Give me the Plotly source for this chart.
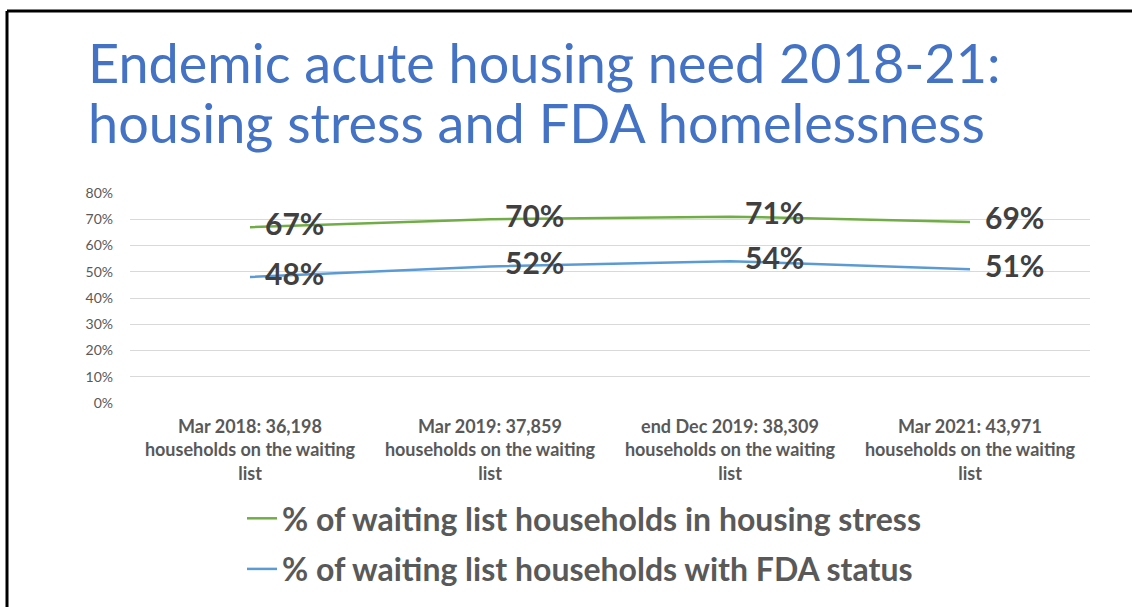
import plotly.graph_objects as go

categories = [
    "Mar 2018: 36,198<br>households on the waiting<br>list",
    "Mar 2019: 37,859<br>households on the waiting<br>list",
    "end Dec 2019: 38,309<br>households on the waiting<br>list",
    "Mar 2021: 43,971<br>households on the waiting<br>list",
]
housing_stress = [67, 70, 71, 69]
fda_status = [48, 52, 54, 51]
series_names = [
    "% of waiting list households in housing stress",
    "% of waiting list households with FDA status",
]
y_ticks = [0, 10, 20, 30, 40, 50, 60, 70, 80]
title_lines = ["Endemic acute housing need 2018-21:", "housing stress and FDA homelessness"]

W, H = 1132, 607
L, R, T, B = 130, 1090, 193, 403

def px(x):
    return (x - L) / (R - L)

def py(y):
    return (B - y) / (B - T)

fig = go.Figure()
for i, (vals, name, color) in enumerate([
    (housing_stress, series_names[0], "#70AD47"),
    (fda_status, series_names[1], "#5B9BD5"),
]):
    fig.add_trace(go.Scatter(
        x=categories, y=vals, name=name, mode="lines+text",
        legendgroup=f"g{i}",
        line=dict(color=color, width=2.5),
        text=[f"\u2002{v}%" for v in vals], textposition="middle right",
        textfont=dict(family="Lato", size=30, color="#404040", weight="bold"),
        cliponaxis=False,
    ))

for line, top in zip(title_lines, [28, 88]):
    fig.add_annotation(
        text=line, xref="paper", yref="paper",
        x=px(86), y=py(top), xanchor="left", yanchor="top", align="left",
        showarrow=False,
        font=dict(family="Lato", size=54, color="#4472C4", weight=400),
    )

fig.add_shape(type="line", xref="paper", yref="paper",
              x0=px(7), x1=px(1140), y0=py(11), y1=py(11),
              line=dict(color="black", width=3))
fig.add_shape(type="line", xref="paper", yref="paper",
              x0=px(7), x1=px(7), y0=py(11), y1=py(620),
              line=dict(color="black", width=3))

fig.update_layout(
    width=W, height=H,
    margin=dict(l=L, r=W - R, t=T, b=H - B, autoexpand=False),
    paper_bgcolor="white", plot_bgcolor="white",
    showlegend=True,
    legend=dict(
        orientation="v", x=px(242), y=py(491), xanchor="left", yanchor="top",
        font=dict(family="Lato", size=32, color="#595959", weight="bold"),
        itemwidth=30, traceorder="grouped", tracegroupgap=6,
        bgcolor="rgba(0,0,0,0)",
    ),
    xaxis=dict(
        type="category", range=[-0.5, 3.5], showgrid=False, showline=False,
        ticks="", ticklabelstandoff=11, automargin=False,
        tickfont=dict(family="Lato", size=18, color="#595959", weight="bold"),
        fixedrange=True,
    ),
    yaxis=dict(
        range=[0, 80], tickvals=y_ticks, ticktext=[f"{v}%" for v in y_ticks],
        showgrid=True, gridcolor="#D9D9D9", gridwidth=1, zeroline=False,
        showline=False, ticks="", ticklabelstandoff=16, automargin=False,
        tickfont=dict(family="Lato", size=14, color="#595959"),
        fixedrange=True,
    ),
)

fig.write_html("out.html")
